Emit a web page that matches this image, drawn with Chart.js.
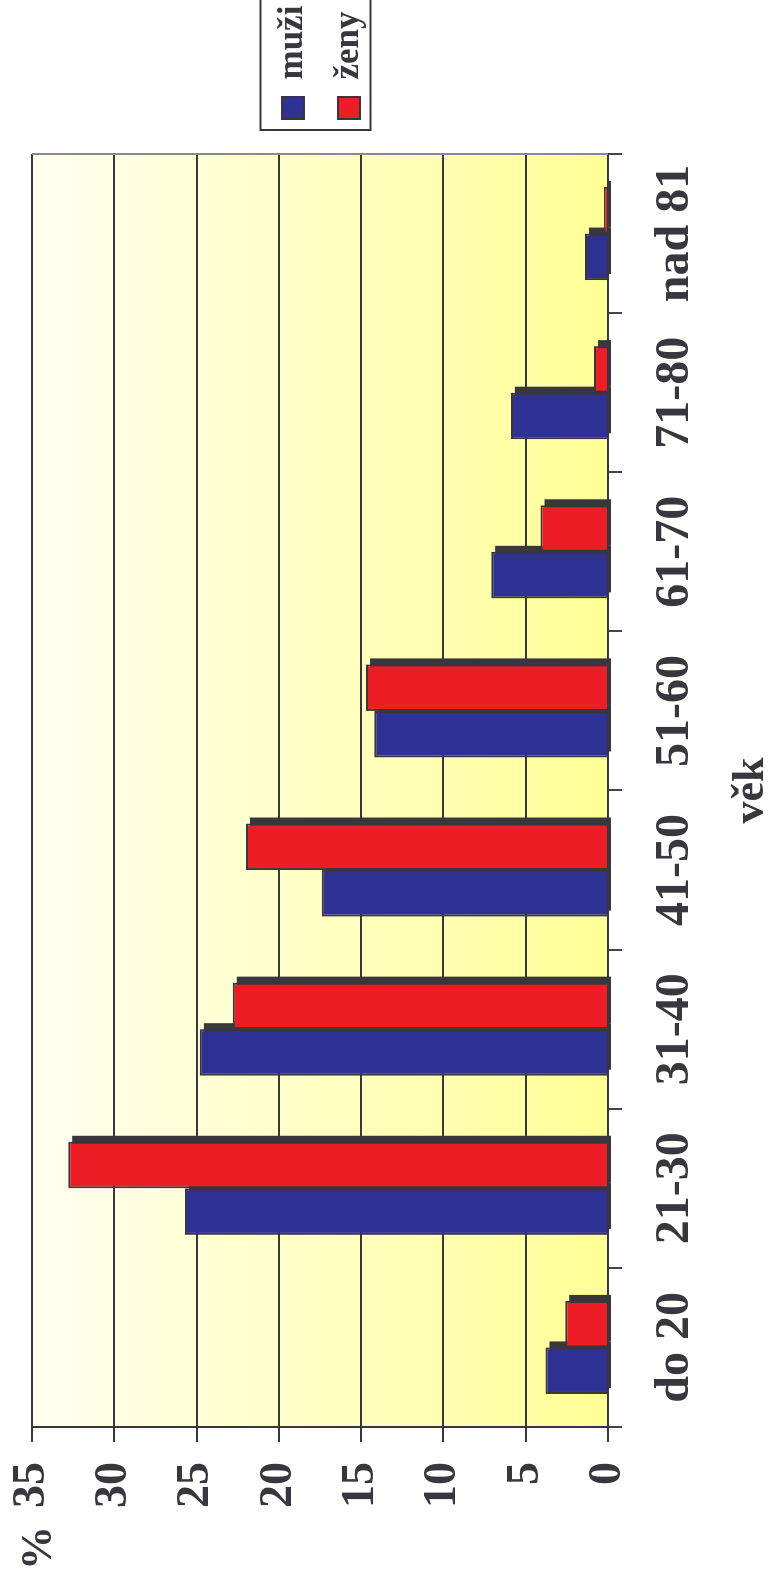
<!DOCTYPE html>
<html lang="cs">
<head>
  <meta charset="UTF-8">
  <title>Věk</title>
  <script src="https://cdn.jsdelivr.net/npm/chart.js"></script>
  <style>
    html, body {
      margin: 0;
      padding: 0;
      background: #fff;
      overflow: hidden;
    }
    body {
      width: 774px;
      height: 1584px;
      position: relative;
    }
    /* chart is drawn landscape, then turned a quarter left */
    .turned {
      position: absolute;
      left: 0;
      top: 1584px;
      width: 1584px;
      height: 774px;
      transform-origin: 0 0;
      transform: rotate(-90deg);
    }
  </style>
</head>
<body>
  <div class="turned"><canvas id="vekChart" width="1584" height="774"></canvas></div>

  <script>
    const ageGroups = ['do 20', '21-30', '31-40', '41-50', '51-60', '61-70', '71-80', 'nad 81'];
    const men = [3.8, 25.7, 24.8, 17.4, 14.2, 7.1, 5.9, 1.4];
    const women = [2.6, 32.8, 22.8, 22.0, 14.7, 4.1, 0.85, 0.25];
    const yMax = 35;
    const yStep = 5;

    const ink = '#38373d';
    const serif = '"Liberation Serif", "Times New Roman", serif';

    const decor = {
      id: 'decor',
      beforeLayout(chart) {
        const lg = chart.legend;
        if (lg && !lg._fixedWidth) {
          const fit = lg.fit;
          lg.fit = function () {
            fit.call(this);
            if (this.position === 'right') this.width = 154;
          };
          lg._fixedWidth = true;
        }
      },
      afterLayout(chart) {
        const lg = chart.legend;
        lg.left += 14;
        lg.top -= 82;
        lg.bottom -= 82;
      },
      beforeDraw(chart) {
        const { ctx, chartArea: a } = chart;
        const g = ctx.createLinearGradient(0, a.top, 0, a.bottom);
        g.addColorStop(0, '#fffff0');
        g.addColorStop(0.45, '#ffffc8');
        g.addColorStop(1, '#ffff96');
        ctx.save();
        ctx.fillStyle = g;
        ctx.fillRect(a.left, a.top, a.right - a.left, a.bottom - a.top);
        ctx.restore();
      },
      beforeDatasetsDraw(chart) {
        // dark offset block behind every bar
        const ctx = chart.ctx;
        ctx.save();
        ctx.fillStyle = ink;
        chart.data.datasets.forEach((ds, i) => {
          chart.getDatasetMeta(i).data.forEach(bar => {
            const p = bar.getProps(['x', 'y', 'base', 'width'], true);
            ctx.fillRect(p.x - p.width / 2 + 6, p.y + 4, p.width, p.base - p.y);
          });
        });
        ctx.restore();
      },
      afterDraw(chart) {
        const { ctx, chartArea: a, legend: lg } = chart;
        ctx.save();
        ctx.strokeStyle = '#8a8a8a';
        ctx.lineWidth = 2;
        ctx.beginPath();
        ctx.moveTo(a.right, a.top);
        ctx.lineTo(a.right, a.bottom);
        ctx.stroke();

        // legend frame
        const hb = lg.legendHitBoxes;
        if (hb && hb.length) {
          const left = Math.min(...hb.map(h => h.left)) - 11;
          const top = Math.min(...hb.map(h => h.top)) - 15;
          const bottom = Math.max(...hb.map(h => h.top + h.height)) + 4;
          ctx.strokeStyle = ink;
          ctx.lineWidth = 2;
          ctx.strokeRect(left, top, chart.width - left + 2, bottom - top);
        }

        ctx.fillStyle = ink;
        ctx.font = 'bold 44px ' + serif;
        ctx.textAlign = 'center';
        ctx.textBaseline = 'middle';
        ctx.fillText('%', 36, 40);
        ctx.restore();
      }
    };

    new Chart(document.getElementById('vekChart'), {
      type: 'bar',
      data: {
        labels: ageGroups,
        datasets: [
          {
            label: 'muži',
            data: men,
            backgroundColor: '#2e3192',
            borderColor: ink,
            borderWidth: 2,
            categoryPercentage: 0.585,
            barPercentage: 1
          },
          {
            label: 'ženy',
            data: women,
            backgroundColor: '#ee1d25',
            borderColor: ink,
            borderWidth: 2,
            categoryPercentage: 0.585,
            barPercentage: 1
          }
        ]
      },
      options: {
        responsive: false,
        animation: false,
        layout: { padding: { top: 32, left: 0, right: 0, bottom: 0 } },
        plugins: {
          tooltip: { enabled: false },
          legend: {
            position: 'right',
            align: 'center',
            labels: {
              color: ink,
              font: { family: serif, size: 35, weight: 'bold' },
              boxWidth: 22,
              boxHeight: 22,
              padding: 21
            }
          }
        },
        scales: {
          x: {
            grid: {
              offset: true,
              drawOnChartArea: false,
              color: '#444',
              lineWidth: 2,
              tickLength: 14
            },
            border: { display: true, color: ink, width: 2 },
            ticks: {
              color: ink,
              font: { family: serif, size: 48, weight: 'bold' },
              padding: 25,
              maxRotation: 0,
              autoSkip: false
            },
            title: {
              display: true,
              text: 'věk',
              color: ink,
              font: { family: serif, size: 44, weight: 'bold', lineHeight: 1 },
              padding: 0
            },
            afterFit(s) { s.height = 166; }
          },
          y: {
            min: 0,
            max: yMax,
            grid: { color: ink, lineWidth: 2, tickLength: 15 },
            border: { display: true, color: ink, width: 2 },
            ticks: {
              stepSize: yStep,
              color: ink,
              font: { family: serif, size: 46, weight: 'bold' },
              padding: 20
            },
            afterFit(s) {
              s.width = 157;
              s.paddingTop = 0;
              s.paddingBottom = 0;
            }
          }
        }
      },
      plugins: [decor]
    });
  </script>
</body>
</html>
